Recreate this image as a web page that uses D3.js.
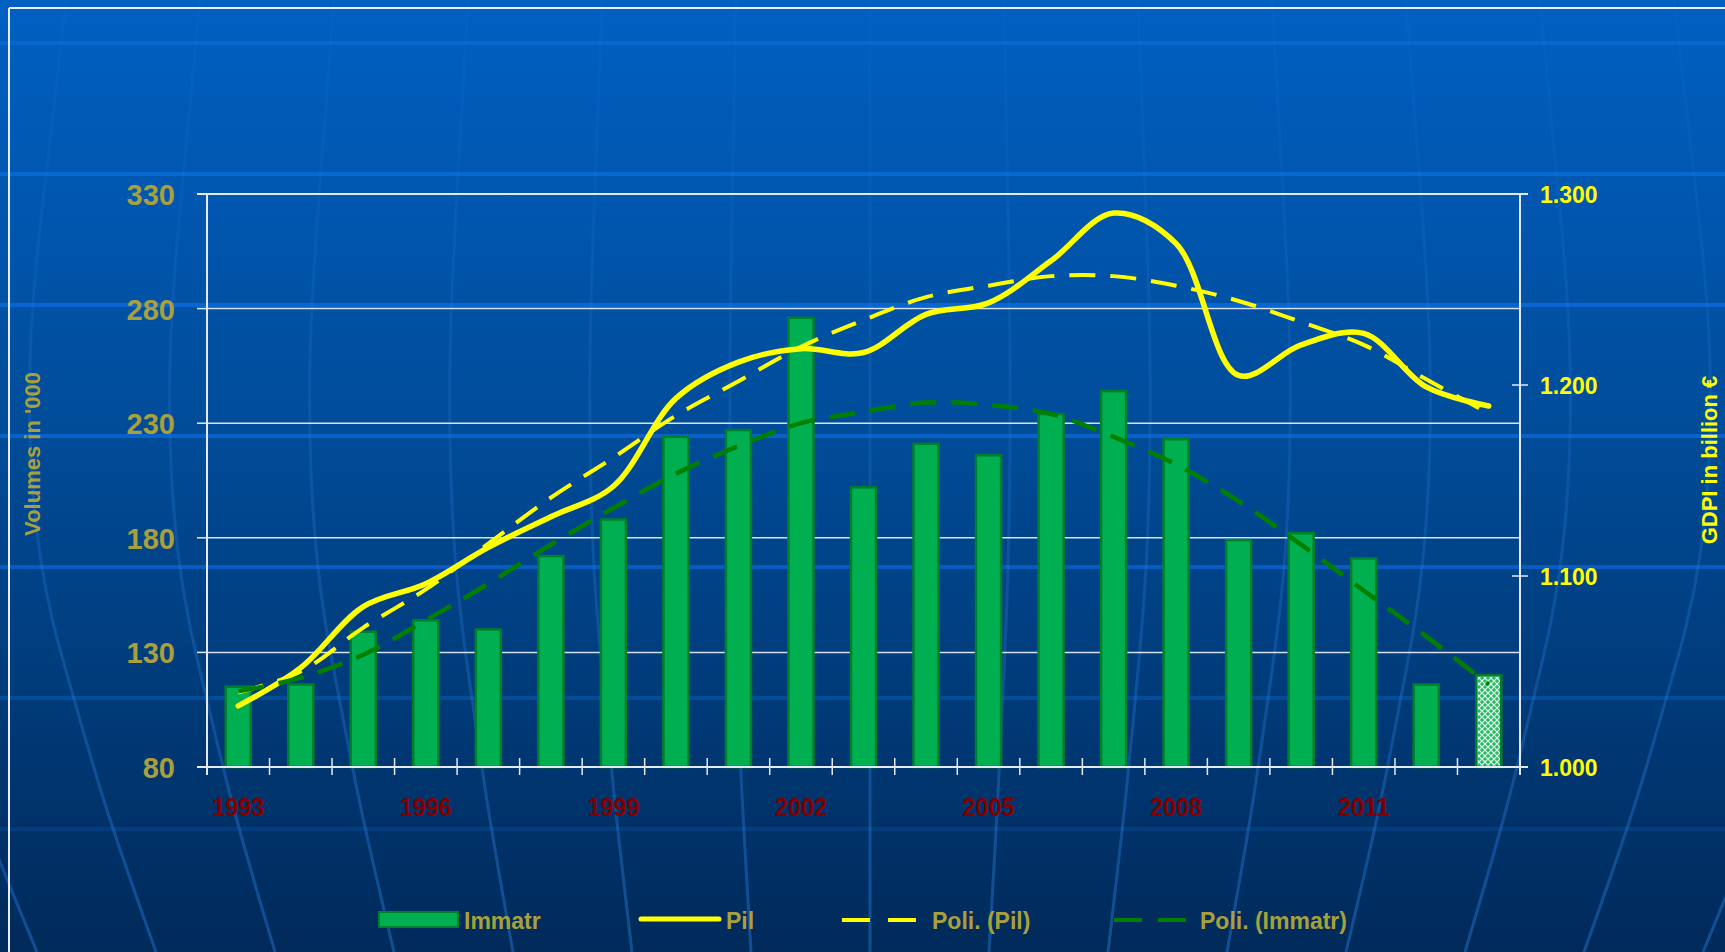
<!DOCTYPE html>
<html>
<head>
<meta charset="utf-8">
<script src="https://cdn.jsdelivr.net/npm/d3@7"></script>
<style>
  html, body { margin: 0; padding: 0; background: #003b78; }
  svg { display: block; }
</style>
</head>
<body>
<div id="chart"></div>
<script>
// data
const years = [1993, 1994, 1995, 1996, 1997, 1998, 1999, 2000, 2001, 2002, 2003,
  2004, 2005, 2006, 2007, 2008, 2009, 2010, 2011, 2012, 2013];
const immatr = [115, 116, 139, 144, 140, 172, 188, 224, 227, 276, 202,
  221, 216, 234, 244, 223, 179, 182, 171, 116, 120];
const pil = [1032, 1052, 1084, 1096, 1115, 1131, 1147, 1193, 1212, 1219, 1217,
  1237, 1243, 1265, 1290, 1274, 1205, 1221, 1227, 1199, 1189];
const poliPil = [1039, 1050, 1073, 1093, 1117, 1141, 1162, 1184, 1202, 1220, 1234,
  1246, 1252, 1257, 1257, 1252, 1244, 1233, 1221, 1203, 1185];
const poliImmatr = [113, 119, 129, 144, 160, 177, 193, 208, 220, 230, 235,
  239, 238, 234, 224, 212, 196, 177, 157, 137, 116];
const leftTicks = [80, 130, 180, 230, 280, 330];
const rightTicks = [1000, 1100, 1200, 1300];
const rightTickLabels = ["1.000", "1.100", "1.200", "1.300"];
const yearLabels = [1993, 1996, 1999, 2002, 2005, 2008, 2011];
const legendItems = ["Immatr", "Pil", "Poli. (Pil)", "Poli. (Immatr)"];

const W = 1725, H = 952;
const plot = {left: 207, right: 1520, top: 194, bottom: 767};
const font = "'Liberation Sans', Arial, sans-serif";

const svg = d3.select("#chart").append("svg")
  .attr("width", W)
  .attr("height", H);

const defs = svg.append("defs");
const bg = defs.append("linearGradient")
  .attr("id", "bg").attr("x1", 0).attr("y1", 0).attr("x2", 0).attr("y2", 1);
bg.append("stop").attr("offset", "0%").attr("stop-color", "#0060c2");
bg.append("stop").attr("offset", "45%").attr("stop-color", "#004c99");
bg.append("stop").attr("offset", "100%").attr("stop-color", "#002a5a");

// meridians fade out towards the top
const mg = defs.append("linearGradient")
  .attr("id", "merid")
  .attr("gradientUnits", "userSpaceOnUse")
  .attr("x1", 0).attr("y1", 0).attr("x2", 0).attr("y2", H);
mg.append("stop").attr("offset", "0%").attr("stop-color", "#2a80e0").attr("stop-opacity", 0.06);
mg.append("stop").attr("offset", "35%").attr("stop-color", "#2a80e0").attr("stop-opacity", 0.18);
mg.append("stop").attr("offset", "100%").attr("stop-color", "#2a80e0").attr("stop-opacity", 0.42);

const pat = defs.append("pattern")
  .attr("id", "mesh")
  .attr("patternUnits", "userSpaceOnUse")
  .attr("width", 6).attr("height", 6);
pat.append("rect").attr("width", 6).attr("height", 6).attr("fill", "#25bb62");
pat.append("path")
  .attr("d", "M0,3 L3,0 L6,3 L3,6 Z")
  .attr("fill", "none")
  .attr("stroke", "#e8fff0")
  .attr("stroke-width", 1.1);

svg.append("rect").attr("width", W).attr("height", H).attr("fill", "url(#bg)");

// backdrop: light horizontal bands and globe meridians
const bands = [[43, "#0866cf"], [174, "#0868d2"], [305, "#0866d0"], [436, "#0862ca"],
  [567, "#065cc0"], [698, "#044c98"], [829, "#033d7c"]];
svg.append("g").selectAll("line")
  .data(bands)
  .join("line")
  .attr("x1", 0).attr("x2", W)
  .attr("y1", d => d[0]).attr("y2", d => d[0])
  .attr("stroke", d => d[1])
  .attr("stroke-width", 4);

const spacing = [[0, 134], [160, 137], [360, 141], [570, 139], [690, 133], [800, 128], [952, 119]];
const meridian = d3.line().curve(d3.curveBasis);
svg.append("g").selectAll("path")
  .data(d3.range(-7, 8))
  .join("path")
  .attr("d", k => meridian(spacing.map(([y, s]) => [870 + k * s, y])))
  .attr("fill", "none")
  .attr("stroke", "url(#merid)")
  .attr("stroke-width", 3);

// frame
svg.append("line").attr("x1", 9).attr("x2", W).attr("y1", 8).attr("y2", 8)
  .attr("stroke", "#e6eefc").attr("stroke-width", 2);
svg.append("line").attr("x1", 9).attr("x2", 9).attr("y1", 8).attr("y2", H)
  .attr("stroke", "#e6eefc").attr("stroke-width", 2);

const x = d3.scaleBand()
  .domain(years)
  .range([plot.left, plot.right])
  .paddingInner(0.6)
  .paddingOuter(0.3);
const cx = d => x(d) + x.bandwidth() / 2;
const yL = d3.scaleLinear().domain([80, 330]).range([plot.bottom, plot.top]);
const yR = d3.scaleLinear().domain([1000, 1300]).range([plot.bottom, plot.top]);

// gridlines
svg.append("g").selectAll("line")
  .data(leftTicks.slice(1, -1))
  .join("line")
  .attr("x1", plot.left).attr("x2", plot.right)
  .attr("y1", d => yL(d)).attr("y2", d => yL(d))
  .attr("stroke", "#f0f4fa")
  .attr("stroke-opacity", 0.9)
  .attr("stroke-width", 1.5);

// bars
svg.append("g").selectAll("rect")
  .data(years)
  .join("rect")
  .attr("x", d => x(d))
  .attr("y", (d, i) => yL(immatr[i]))
  .attr("width", x.bandwidth())
  .attr("height", (d, i) => yL(80) - yL(immatr[i]))
  .attr("fill", (d, i) => i === years.length - 1 ? "url(#mesh)" : "#00b050")
  .attr("stroke", "#00802a")
  .attr("stroke-width", 2.5);

const lineR = d3.line()
  .x((d, i) => cx(years[i]))
  .y(d => yR(d))
  .curve(d3.curveCatmullRom.alpha(0.5));
const lineL = d3.line()
  .x((d, i) => cx(years[i]))
  .y(d => yL(d))
  .curve(d3.curveCatmullRom.alpha(0.5));

svg.append("path")
  .attr("d", lineR(pil))
  .attr("fill", "none")
  .attr("stroke", "#ffff00")
  .attr("stroke-width", 5.5)
  .attr("stroke-linecap", "round")
  .attr("stroke-linejoin", "round");

svg.append("path")
  .attr("d", lineR(poliPil))
  .attr("fill", "none")
  .attr("stroke", "#ffff00")
  .attr("stroke-width", 4)
  .attr("stroke-dasharray", "26,15");

svg.append("path")
  .attr("d", lineL(poliImmatr))
  .attr("fill", "none")
  .attr("stroke", "#008000")
  .attr("stroke-width", 4.5)
  .attr("stroke-dasharray", "26,15");

// axes frame and ticks
const axisColor = "#e4eaf4";
const frame = svg.append("g").attr("stroke", axisColor).attr("stroke-width", 2);
frame.append("line").attr("x1", plot.left).attr("x2", plot.left).attr("y1", plot.top).attr("y2", plot.bottom + 8);
frame.append("line").attr("x1", plot.right).attr("x2", plot.right).attr("y1", plot.top).attr("y2", plot.bottom + 8);
frame.append("line").attr("x1", plot.left - 10).attr("x2", plot.right + 8).attr("y1", plot.top).attr("y2", plot.top);
frame.append("line").attr("x1", plot.left - 10).attr("x2", plot.right + 8).attr("y1", plot.bottom).attr("y2", plot.bottom);

svg.append("g").selectAll("line")
  .data(leftTicks)
  .join("line")
  .attr("x1", plot.left - 10).attr("x2", plot.left)
  .attr("y1", d => yL(d)).attr("y2", d => yL(d))
  .attr("stroke", axisColor).attr("stroke-width", 1.5);

svg.append("g").selectAll("line")
  .data(rightTicks)
  .join("line")
  .attr("x1", plot.right - 8).attr("x2", plot.right + 8)
  .attr("y1", d => yR(d)).attr("y2", d => yR(d))
  .attr("stroke", axisColor).attr("stroke-width", 1.5);

svg.append("g").selectAll("line")
  .data(d3.range(years.length + 1))
  .join("line")
  .attr("x1", k => plot.left + k * x.step())
  .attr("x2", k => plot.left + k * x.step())
  .attr("y1", plot.bottom - 9).attr("y2", plot.bottom + 8)
  .attr("stroke", axisColor).attr("stroke-width", 1.5);

// tick labels
svg.append("g").selectAll("text")
  .data(leftTicks)
  .join("text")
  .attr("x", 175)
  .attr("y", d => yL(d) + 11)
  .attr("text-anchor", "end")
  .attr("font-family", font)
  .attr("font-weight", "bold")
  .attr("font-size", 29)
  .attr("fill", "#a8a03c")
  .text(d => d);

svg.append("g").selectAll("text")
  .data(rightTicks)
  .join("text")
  .attr("x", 1540)
  .attr("y", d => yR(d) + 9)
  .attr("font-family", font)
  .attr("font-weight", "bold")
  .attr("font-size", 23)
  .attr("fill", "#ffff00")
  .text((d, i) => rightTickLabels[i]);

svg.append("g").selectAll("text")
  .data(yearLabels)
  .join("text")
  .attr("x", d => cx(d))
  .attr("y", 816)
  .attr("text-anchor", "middle")
  .attr("font-family", font)
  .attr("font-weight", "bold")
  .attr("font-size", 25)
  .attr("textLength", 52)
  .attr("lengthAdjust", "spacingAndGlyphs")
  .attr("fill", "#800000")
  .text(d => d);

// axis titles
svg.append("text")
  .attr("transform", "translate(40,454) rotate(-90)")
  .attr("text-anchor", "middle")
  .attr("font-family", font)
  .attr("font-weight", "bold")
  .attr("font-size", 22)
  .attr("fill", "#a8a03c")
  .text("Volumes in '000");

svg.append("text")
  .attr("transform", "translate(1717,460) rotate(-90)")
  .attr("text-anchor", "middle")
  .attr("font-family", font)
  .attr("font-weight", "bold")
  .attr("font-size", 22)
  .attr("fill", "#ffff00")
  .text("GDPI in billion €");

// legend
const legendY = 919;
const legend = svg.append("g");
legend.append("rect")
  .attr("x", 379).attr("y", legendY - 7).attr("width", 79).attr("height", 15)
  .attr("fill", "#00b050").attr("stroke", "#00802a").attr("stroke-width", 2);
legend.append("line")
  .attr("x1", 641).attr("x2", 719).attr("y1", legendY).attr("y2", legendY)
  .attr("stroke", "#ffff00").attr("stroke-width", 5).attr("stroke-linecap", "round");
legend.append("line")
  .attr("x1", 842).attr("x2", 916).attr("y1", legendY + 1).attr("y2", legendY + 1)
  .attr("stroke", "#ffff00").attr("stroke-width", 4).attr("stroke-dasharray", "28,18");
legend.append("line")
  .attr("x1", 1114).attr("x2", 1186).attr("y1", legendY + 1).attr("y2", legendY + 1)
  .attr("stroke", "#008000").attr("stroke-width", 4).attr("stroke-dasharray", "28,16");

const legendX = [464, 726, 932, 1200];
legend.selectAll("text")
  .data(legendItems)
  .join("text")
  .attr("x", (d, i) => legendX[i])
  .attr("y", legendY + 10)
  .attr("font-family", font)
  .attr("font-weight", "bold")
  .attr("font-size", 23)
  .attr("fill", "#a8a03c")
  .text(d => d);
</script>
</body>
</html>
